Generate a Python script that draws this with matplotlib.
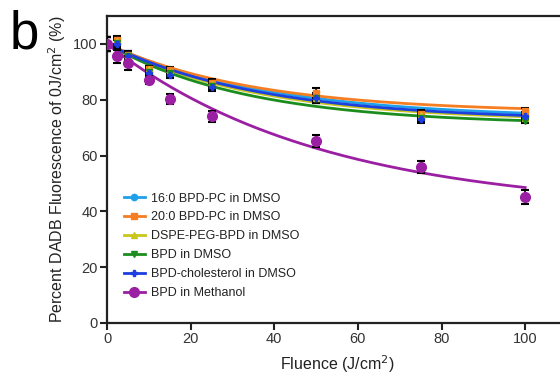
import numpy as np
import matplotlib
matplotlib.use('Agg')
import matplotlib.pyplot as plt

plt.rcParams['font.family'] = ['Liberation Sans', 'DejaVu Sans']

# fluence values (J/cm^2)
fluence = [0, 2.5, 5, 10, 15, 25, 50, 75, 100]

labels = ['16:0 BPD-PC in DMSO', '20:0 BPD-PC in DMSO', 'DSPE-PEG-BPD in DMSO',
          'BPD in DMSO', 'BPD-cholesterol in DMSO', 'BPD in Methanol']
colors = ['#1fa0ea', '#f57d22', '#c9c61e', '#1b8c1e', '#1d3fe0', '#9a1fa2']
markers = ['o', 's', '^', 'v', 'P', 'o']
msizes = [4, 4.5, 4.5, 4.5, 5, 7]

# measured points (% of 0 J/cm^2)
vals = [
    [100, 100.5, 96, 90.5, 90, 85.5, 81, 74, 74.5],
    [100, 101.5, 96, 91, 90.5, 86, 82.5, 75, 76],
    [100, 101, 96, 91, 90, 85.5, 80.5, 74.5, 73.5],
    [100, 100.5, 95.5, 90, 89.5, 85, 80.5, 73.5, 72.5],
    [100, 100, 95.5, 89.5, 89, 84.5, 80.5, 73, 74],
    [100, 95.5, 93, 87, 80.2, 74, 65.2, 56, 45],
]
errs = [
    [2.5, 1.5, 1.5, 1.2, 1.2, 1.5, 1.5, 1.2, 1.0],
    [2.5, 1.5, 1.5, 1.2, 1.2, 1.5, 1.8, 1.2, 1.0],
    [2.5, 1.5, 1.5, 1.2, 1.2, 1.5, 1.5, 1.2, 1.0],
    [2.5, 1.5, 1.5, 1.2, 1.2, 1.5, 1.5, 1.2, 1.0],
    [2.5, 1.5, 1.5, 1.2, 1.2, 1.5, 1.5, 1.2, 1.0],
    [2.5, 2.2, 2.5, 1.5, 1.8, 2.0, 2.2, 2.2, 2.5],
]

# one-phase decay fit parameters: plateau, rate k
plateau = [73.2, 75.3, 72.2, 71.0, 72.5, 40.0]
rate = [0.026, 0.028, 0.028, 0.0296, 0.027, 0.0195]

fig = plt.figure(figsize=(5.6, 3.77), dpi=100)
ax = fig.add_axes([107/560, 54/377, 460/560, 307/377])

xfit = np.linspace(0, 100, 300)
order = [3, 2, 4, 0, 1, 5]
for i in order:
    yfit = plateau[i] + (100 - plateau[i]) * np.exp(-rate[i] * xfit)
    ax.plot(xfit, yfit, color=colors[i], lw=2, zorder=2 + i * 0.1)

for i in range(len(labels)):
    ax.errorbar(fluence, vals[i], yerr=errs[i], fmt='none', ecolor='black',
                elinewidth=1.2, capsize=3, capthick=1.5, zorder=3)
    ax.plot(fluence, vals[i], linestyle='none', marker=markers[i], ms=msizes[i],
            color=colors[i], zorder=4)

# legend handles: line with marker
handles = [plt.Line2D([], [], color=colors[i], marker=markers[i], ms=4.5 if i < 5 else 7, lw=2)
           for i in range(len(labels))]
leg = ax.legend(handles, labels, loc='lower left', bbox_to_anchor=(0.025, 0.062),
                frameon=False, fontsize=9, handlelength=1.7, labelspacing=0.55,
                handletextpad=0.5, borderaxespad=0)
for t in leg.get_texts():
    t.set_color('#222222')

ax.set_xlim(0, 110)
ax.set_ylim(0, 110)
ax.set_xticks([0, 20, 40, 60, 80, 100])
ax.set_yticks([0, 20, 40, 60, 80, 100])
for s in ['left', 'bottom', 'top']:
    ax.spines[s].set_linewidth(1.6)
    ax.spines[s].set_color('#222222')
ax.spines['right'].set_visible(False)
ax.tick_params(direction='out', length=5, width=1.5, colors='#222222',
               labelsize=10.5, pad=1.5)
for lab in ax.get_xticklabels() + ax.get_yticklabels():
    lab.set_color('#333333')

ax.set_xlabel('Fluence (J/cm$^2$)', fontsize=11.5, color='#222222', labelpad=5)
ax.set_ylabel('Percent DADB Fluorescence of 0J/cm$^2$ (%)', fontsize=11.5,
              color='#222222', labelpad=4)

fig.text(0.017, 0.975, 'b', fontsize=38, va='top', ha='left', color='black')

fig.savefig('out.png', dpi=100)
